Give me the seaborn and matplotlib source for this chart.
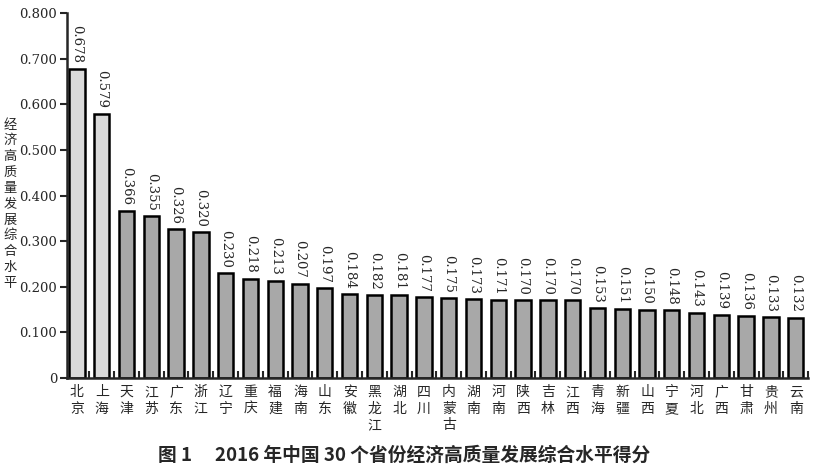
import matplotlib
matplotlib.use("Agg")
import matplotlib.pyplot as plt
import seaborn as sns
import numpy as np
import pandas as pd

provinces = ["北京", "上海", "天津", "江苏", "广东", "浙江", "辽宁", "重庆", "福建", "海南",
             "山东", "安徽", "黑龙江", "湖北", "四川", "内蒙古", "湖南", "河南", "陕西", "吉林",
             "江西", "青海", "新疆", "山西", "宁夏", "河北", "广西", "甘肃", "贵州", "云南"]
scores = [0.678, 0.579, 0.366, 0.355, 0.326, 0.320, 0.230, 0.218, 0.213, 0.207,
          0.197, 0.184, 0.182, 0.181, 0.177, 0.175, 0.173, 0.171, 0.170, 0.170,
          0.170, 0.153, 0.151, 0.150, 0.148, 0.143, 0.139, 0.136, 0.133, 0.132]
yticks = [0.0, 0.1, 0.2, 0.3, 0.4, 0.5, 0.6, 0.7, 0.8]
ytick_labels = ["0", "0.100", "0.200", "0.300", "0.400", "0.500", "0.600", "0.700", "0.800"]
ylabel = "经济高质量发展综合水平"
title = "图 1　 2016 年中国 30 个省份经济高质量发展综合水平得分"

sns.set_style("ticks")
plt.rcParams['font.family'] = ['DejaVu Serif', 'Noto Sans CJK SC', 'DejaVu Sans']

df = pd.DataFrame({"province": provinces, "score": scores})
colors = ["#dadada", "#dadada"] + ["#a8a8a8"] * (len(provinces) - 2)

fig = plt.figure(figsize=(8.13, 4.68), dpi=100)
ax = fig.add_axes([0.0824, 0.1923, 0.9116, 0.7799])
sns.barplot(data=df, x="province", y="score", hue="province", palette=colors,
            legend=False, width=0.62, edgecolor="black", linewidth=1.8,
            saturation=1, ax=ax)

for i, v in enumerate(scores):
    ax.text(i, v + 0.012, f"{v:.3f}", rotation=-90, ha="center", va="bottom",
            fontsize=9.5, family='DejaVu Serif')

ax.set_xlim(-0.4, 29.5)
ax.set_ylim(0, 0.8)
ax.set_yticks(yticks)
ax.set_yticklabels(ytick_labels, fontsize=9.5, fontfamily='DejaVu Serif')
ax.tick_params(axis="y", labelfontfamily='DejaVu Serif', labelsize=9.5)
ax.set_xticks(range(len(provinces)))
ax.set_xticklabels(["\n".join(p) for p in provinces], fontsize=10,
                   fontfamily=['Noto Sans CJK SC', 'DejaVu Sans'], linespacing=1.25)
ax.tick_params(axis="x", which="major", length=0, pad=5)
ax.set_xticks(np.arange(0.5, len(provinces), 1.0), minor=True)
ax.tick_params(axis="x", which="minor", direction="in", length=5, width=1.5)
ax.tick_params(axis="y", direction="out", length=5, width=1.5, pad=2)
ax.set_xlabel("")
ax.set_ylabel("")
for s in ["top", "right"]:
    ax.spines[s].set_visible(False)
for s in ["left", "bottom"]:
    ax.spines[s].set_linewidth(1.8)

fig.text(0.012, 0.564, "\n".join(ylabel), ha="center", va="center", fontsize=9.5,
         family=['Noto Sans CJK SC', 'DejaVu Sans'], linespacing=1.28)
fig.text(0.497, 0.028, title, ha="center", va="center", fontsize=13.5, fontweight="bold",
         family=['Noto Sans CJK SC', 'DejaVu Sans'])

fig.savefig("out.png", dpi=100)
